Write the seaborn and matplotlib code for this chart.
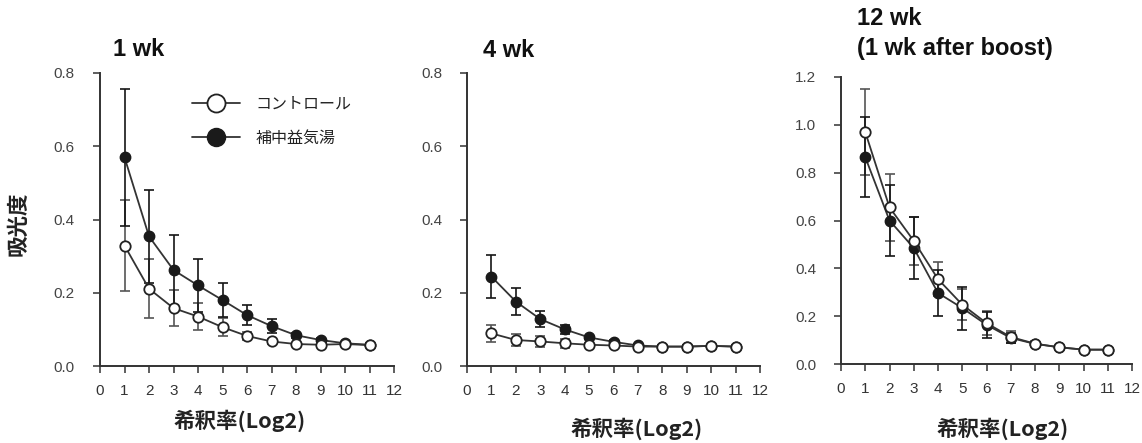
import numpy as np
import pandas as pd
import matplotlib
matplotlib.use("Agg")
import matplotlib.pyplot as plt
import seaborn as sns
from matplotlib.lines import Line2D
from matplotlib import font_manager as fm

# ---------------- data ----------------
dilution = list(range(1, 12))
groups = ["コントロール", "補中益気湯"]
panel_titles = ["1 wk", "4 wk", "12 wk\n(1 wk after boost)"]

ctrl_1wk = [0.329, 0.211, 0.158, 0.135, 0.106, 0.082, 0.067, 0.060, 0.058, 0.060, 0.057]
ctrl_1wk_err = [0.125, 0.080, 0.050, 0.037, 0.025, 0.010, 0.006, 0.004, 0.004, 0.004, 0.004]
hochu_1wk = [0.570, 0.354, 0.262, 0.220, 0.180, 0.139, 0.109, 0.084, 0.071, 0.062, 0.058]
hochu_1wk_err = [0.187, 0.127, 0.095, 0.072, 0.047, 0.027, 0.018, 0.007, 0.005, 0.004, 0.004]

ctrl_4wk = [0.089, 0.071, 0.067, 0.062, 0.058, 0.056, 0.053, 0.053, 0.053, 0.055, 0.053]
ctrl_4wk_err = [0.023, 0.016, 0.015, 0.013, 0.005, 0.004, 0.003, 0.003, 0.003, 0.003, 0.003]
hochu_4wk = [0.244, 0.176, 0.128, 0.100, 0.078, 0.066, 0.056, 0.053, 0.053, 0.055, 0.053]
hochu_4wk_err = [0.058, 0.037, 0.021, 0.012, 0.005, 0.004, 0.003, 0.003, 0.003, 0.003, 0.003]

ctrl_12wk = [0.970, 0.655, 0.515, 0.355, 0.248, 0.171, 0.113, 0.085, 0.070, 0.060, 0.060]
ctrl_12wk_err = [0.180, 0.140, 0.100, 0.070, 0.065, 0.050, 0.024, 0.010, 0.006, 0.004, 0.004]
hochu_12wk = [0.865, 0.600, 0.485, 0.297, 0.234, 0.164, 0.109, 0.084, 0.070, 0.060, 0.060]
hochu_12wk_err = [0.167, 0.150, 0.130, 0.098, 0.090, 0.055, 0.020, 0.010, 0.006, 0.004, 0.004]

x_ticks = list(range(0, 13))
y_ticks_low = [0.0, 0.2, 0.4, 0.6, 0.8]
y_ticks_high = [0.0, 0.2, 0.4, 0.6, 0.8, 1.0, 1.2]
ylabel_text = "吸光度"
xlabel_text = "希釈率(Log2)"

panels = [
    (ctrl_1wk, ctrl_1wk_err, hochu_1wk, hochu_1wk_err, y_ticks_low),
    (ctrl_4wk, ctrl_4wk_err, hochu_4wk, hochu_4wk_err, y_ticks_low),
    (ctrl_12wk, ctrl_12wk_err, hochu_12wk, hochu_12wk_err, y_ticks_high),
]

# ---------------- style ----------------
sns.set_theme(style="ticks")
names = {f.name for f in fm.fontManager.ttflist}
narrow = "Liberation Sans Narrow" if "Liberation Sans Narrow" in names else "Liberation Sans"
plt.rcParams["font.family"] = ["Liberation Sans", "Noto Sans CJK JP", "DejaVu Sans"]
CJK = ["Noto Sans CJK JP", "DejaVu Sans"]

fig = plt.figure(figsize=(11.42, 4.43), dpi=100)
W, H = 1142, 443
boxes = [(100, 394, 73, 366), (467, 760, 73, 366), (841, 1132, 77, 364)]
xlabel_pos = [(240, 410), (637, 418), (1003, 417)]

line_col = "#333333"
for i, ((c, ce, h, he, yt), (l, r, t, b)) in enumerate(zip(panels, boxes)):
    ax = fig.add_axes([l / W, 1 - b / H, (r - l) / W, (b - t) / H])
    df = pd.DataFrame({
        "dilution": dilution * 2,
        "value": list(c) + list(h),
        "err": list(ce) + list(he),
        "group": [groups[0]] * len(dilution) + [groups[1]] * len(dilution),
    })
    dc = df[df.group == groups[0]]
    dh = df[df.group == groups[1]]
    ax.errorbar(dc.dilution, dc.value, yerr=dc.err, fmt="none", ecolor="#555555",
                elinewidth=1.2, capsize=3.5, capthick=1.2, zorder=1)
    ax.errorbar(dh.dilution, dh.value, yerr=dh.err, fmt="none", ecolor="#151515",
                elinewidth=1.2, capsize=3.5, capthick=1.2, zorder=1)
    sns.lineplot(data=dh, x="dilution", y="value", ax=ax, color=line_col, lw=1.3,
                 marker="o", markersize=7.5, markerfacecolor="#1a1a1a",
                 markeredgecolor="#1a1a1a", markeredgewidth=1.0, zorder=2,
                 legend=False)
    sns.lineplot(data=dc, x="dilution", y="value", ax=ax, color=line_col, lw=1.3,
                 marker="o", markersize=7.5, markerfacecolor="white",
                 markeredgecolor="#222222", markeredgewidth=1.3, zorder=3,
                 legend=False)
    ax.set_xlim(0, 12)
    ax.set_ylim(0, yt[-1])
    ax.set_xticks(x_ticks)
    ax.set_xticklabels([str(v) for v in x_ticks], fontsize=11, family=narrow, color="#333333")
    ax.set_yticks(yt)
    ax.set_yticklabels([f"{v:.1f}" for v in yt], fontsize=11, color="#444444")
    ax.tick_params(axis="y", direction="out", length=5, width=1.1, color="#333333", pad=13)
    ax.tick_params(axis="x", direction="out", length=5, width=1.1, color="#333333", pad=8)
    sns.despine(ax=ax)
    for s in ("left", "bottom"):
        ax.spines[s].set_color("#333333")
        ax.spines[s].set_linewidth(1.4)
    ax.set_ylabel("")
    ax.set_xlabel("")
    # x label
    xp, yp = xlabel_pos[i]
    fig.text(xp / W, 1 - yp / H, xlabel_text, ha="center", va="top", fontsize=15.5,
             fontweight="bold", family=CJK, color="#222222")
    # title
    lines = panel_titles[i].split("\n")
    tkw = dict(transform=ax.transAxes, ha="left", va="baseline", fontsize=17,
               fontweight="bold", color="#111111")
    if i == 0:
        ax.text((113 - l) / (r - l), (b - 56) / (b - t), lines[0], **tkw)
    elif i == 1:
        ax.text((483 - l) / (r - l), (b - 57) / (b - t), lines[0], **tkw)
    else:
        ax.text((857 - l) / (r - l), (b - 25) / (b - t), lines[0], **tkw)
        ax.text((857 - l) / (r - l), (b - 55) / (b - t), lines[1], **tkw)
    if i == 0:
        handles = [
            Line2D([], [], color=line_col, lw=1.3, marker="o", markersize=13,
                   markerfacecolor="white", markeredgecolor="#222222", markeredgewidth=1.3),
            Line2D([], [], color=line_col, lw=1.3, marker="o", markersize=13,
                   markerfacecolor="#1a1a1a", markeredgecolor="#1a1a1a"),
        ]
        leg = ax.legend(handles, groups, loc="upper left",
                        bbox_to_anchor=((192 - l) / (r - l), (b - 96) / (b - t)),
                        frameon=False, borderpad=0, borderaxespad=0, handlelength=3.0,
                        handletextpad=1.0, labelspacing=1.05,
                        prop={"family": CJK, "size": 11.5})
        for txt in leg.get_texts():
            txt.set_color("#222222")

fig.text(18 / W, 1 - 224 / H, ylabel_text, rotation=90, ha="center", va="center",
         fontsize=15.5, fontweight="bold", family=CJK, color="#222222")

fig.savefig("out.png", dpi=100)
